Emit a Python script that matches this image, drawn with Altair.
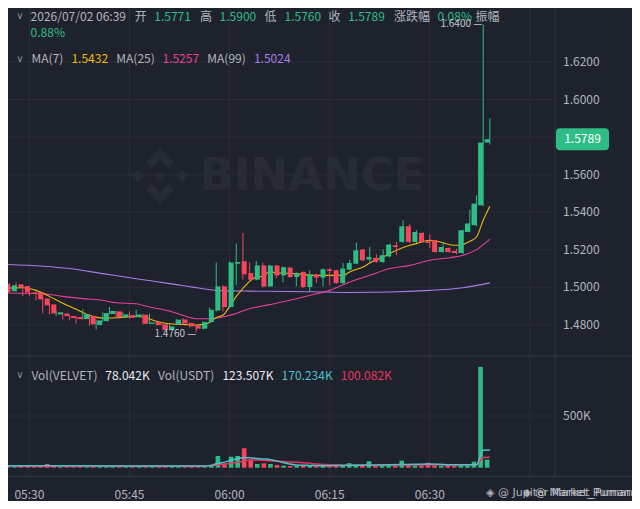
import altair as alt
import pandas as pd

# ---------------- data ----------------
n_candles = 74
times = [f"{(5 * 60 + 26 + i) // 60:02d}:{(5 * 60 + 26 + i) % 60:02d}" for i in range(n_candles)]

open_ = [1.5016, 1.4979, 1.5016, 1.5007, 1.4973, 1.4973, 1.4941, 1.4909, 1.4856, 1.4861,
         1.4847, 1.4842, 1.4831, 1.4847, 1.4799, 1.4820, 1.4858, 1.4872, 1.4842, 1.4852,
         1.4842, 1.4854, 1.4806, 1.4815, 1.4803, 1.4774, 1.4803, 1.4829, 1.4810, 1.4796,
         1.4780, 1.4815, 1.4877, 1.5005, 1.4895, 1.5126, 1.5139, 1.5076, 1.5041, 1.5117,
         1.5005, 1.5116, 1.5064, 1.5105, 1.5055, 1.5082, 1.5002, 1.5068, 1.5052, 1.5096,
         1.5091, 1.5023, 1.5094, 1.5126, 1.5201, 1.5148, 1.5156, 1.5135, 1.5165, 1.5224,
         1.5242, 1.5325, 1.5242, 1.5290, 1.5245, 1.5251, 1.5188, 1.5210, 1.5194, 1.5183,
         1.5295, 1.5331, 1.5437, 1.5771]
high = [1.5032, 1.5021, 1.5027, 1.5016, 1.4984, 1.4979, 1.4947, 1.4916, 1.4877, 1.4867,
        1.4851, 1.4845, 1.4883, 1.4860, 1.4829, 1.4867, 1.4895, 1.4875, 1.4868, 1.4872,
        1.4881, 1.4859, 1.4860, 1.4819, 1.4805, 1.4803, 1.4832, 1.4836, 1.4813, 1.4800,
        1.4819, 1.4892, 1.5132, 1.5011, 1.5139, 1.5233, 1.5290, 1.5133, 1.5140, 1.5130,
        1.5120, 1.5119, 1.5112, 1.5109, 1.5080, 1.5085, 1.5091, 1.5072, 1.5101, 1.5103,
        1.5093, 1.5130, 1.5148, 1.5238, 1.5205, 1.5215, 1.5176, 1.5201, 1.5232, 1.5242,
        1.5357, 1.5336, 1.5304, 1.5293, 1.5281, 1.5253, 1.5242, 1.5213, 1.5206, 1.5307,
        1.5414, 1.5491, 1.6400, 1.5900]
low = [1.4968, 1.4973, 1.4995, 1.4954, 1.4952, 1.4931, 1.4861, 1.4856, 1.4847, 1.4829,
       1.4824, 1.4808, 1.4829, 1.4797, 1.4776, 1.4819, 1.4856, 1.4835, 1.4840, 1.4835,
       1.4840, 1.4803, 1.4805, 1.4797, 1.4771, 1.4771, 1.4800, 1.4803, 1.4787, 1.4760,
       1.4776, 1.4813, 1.4872, 1.4872, 1.4888, 1.5011, 1.5041, 1.5037, 1.5037, 1.5000,
       1.5002, 1.5048, 1.5028, 1.5051, 1.5005, 1.4997, 1.4980, 1.5023, 1.5005, 1.5011,
       1.5019, 1.5019, 1.5091, 1.5123, 1.5139, 1.5135, 1.5131, 1.5131, 1.5160, 1.5171,
       1.5237, 1.5237, 1.5237, 1.5237, 1.5210, 1.5184, 1.5184, 1.5184, 1.5176, 1.5176,
       1.5293, 1.5325, 1.5432, 1.5760]
close = [1.4973, 1.5011, 1.5000, 1.4973, 1.4968, 1.4936, 1.4904, 1.4861, 1.4867, 1.4847,
         1.4836, 1.4831, 1.4856, 1.4803, 1.4824, 1.4863, 1.4874, 1.4840, 1.4856, 1.4838,
         1.4856, 1.4806, 1.4813, 1.4799, 1.4774, 1.4792, 1.4828, 1.4808, 1.4792, 1.4780,
         1.4815, 1.4881, 1.5005, 1.4895, 1.5132, 1.5135, 1.5069, 1.5041, 1.5117, 1.5005,
         1.5116, 1.5064, 1.5107, 1.5055, 1.5076, 1.5002, 1.5068, 1.5052, 1.5096, 1.5087,
         1.5023, 1.5100, 1.5130, 1.5197, 1.5144, 1.5162, 1.5135, 1.5171, 1.5228, 1.5215,
         1.5325, 1.5242, 1.5295, 1.5242, 1.5236, 1.5188, 1.5215, 1.5188, 1.5183, 1.5304,
         1.5340, 1.5446, 1.5771, 1.5789]
volume_k = [18, 14, 22, 16, 12, 15, 36, 20, 11, 13,
            10, 12, 9, 14, 12, 10, 15, 13, 8, 10,
            12, 16, 9, 11, 14, 10, 12, 9, 13, 15,
            11, 22, 113, 30, 106, 113, 188, 80, 36, 42,
            36, 26, 20, 16, 18, 22, 20, 14, 16, 12,
            14, 18, 43, 22, 18, 62, 16, 20, 24, 18,
            68, 26, 22, 20, 48, 22, 18, 25, 16, 30,
            24, 58, 975, 78.042]

# moving averages, read at selected candles
ma7_idx = [0, 3, 5, 7, 9, 11, 13, 15, 17, 20, 21, 23, 25, 27, 29, 30, 31, 32, 33, 34,
           35, 36, 37, 38, 39, 40, 41, 42, 44, 45, 47, 49, 51, 52, 53, 54, 55, 57, 59, 61,
           62, 64, 65, 67, 68, 69, 70, 71, 72, 73]
ma7 = [1.4996, 1.4998, 1.4984, 1.4952, 1.4915, 1.4883, 1.4851, 1.4836, 1.4838, 1.4845,
       1.4842, 1.4820, 1.4806, 1.4803, 1.4799, 1.4803, 1.4813, 1.4840, 1.4851, 1.4899,
       1.4952, 1.4995, 1.5032, 1.5055, 1.5059, 1.5085, 1.5077, 1.5076, 1.5073, 1.5068,
       1.5064, 1.5064, 1.5064, 1.5082, 1.5096, 1.5108, 1.5130, 1.5162, 1.5197, 1.5224,
       1.5233, 1.5251, 1.5247, 1.5227, 1.5224, 1.5229, 1.5245, 1.5268, 1.5357, 1.5432]
ma25_idx = [0, 6, 9, 12, 15, 17, 20, 22, 25, 27, 29, 31, 34, 37, 40, 43, 46, 49, 52, 55,
            58, 61, 64, 67, 69, 71, 73]
ma25 = [1.4970, 1.4966, 1.4952, 1.4940, 1.4931, 1.4918, 1.4913, 1.4895, 1.4874, 1.4851,
        1.4833, 1.4833, 1.4851, 1.4886, 1.4908, 1.4931, 1.4957, 1.4984, 1.5028, 1.5064,
        1.5100, 1.5117, 1.5144, 1.5158, 1.5171, 1.5201, 1.5257]
ma99_idx = [0, 10, 15, 20, 25, 30, 32, 37, 40, 46, 52, 58, 64, 69, 73]
ma99 = [1.5123, 1.5100, 1.5073, 1.5046, 1.5020, 1.4993, 1.4984, 1.4980, 1.4979, 1.4977,
        1.4973, 1.4975, 1.4984, 1.4998, 1.5024]

vma5_idx = [0, 12, 24, 30, 31, 32, 33, 34, 35, 36, 37, 38, 39, 40, 42, 43, 44, 46, 48, 52,
            56, 60, 64, 68, 71, 72, 73]
vma5 = [20, 18, 16, 17, 20, 38, 50, 68, 85, 97, 95, 90, 85, 80, 50, 35, 26, 22, 19, 24,
        26, 30, 36, 28, 28, 168, 170.234]
vma10_idx = [0, 12, 24, 30, 32, 34, 36, 37, 38, 40, 42, 44, 46, 47, 49, 52, 56, 60, 64, 68,
             71, 72, 73]
vma10 = [19, 17, 16, 16, 25, 40, 62, 72, 74, 68, 60, 52, 42, 36, 28, 24, 26, 26, 28, 27,
         28, 98, 100.082]

price_grid = [1.48, 1.50, 1.52, 1.54, 1.56, 1.58, 1.60, 1.62]
price_labels = [1.48, 1.50, 1.52, 1.54, 1.56, 1.60, 1.62]   # 1.58 sits under the price tag
vol_ticks = [500]
time_ticks = ["05:30", "05:45", "06:00", "06:15", "06:30", "06:45"]
time_labels = ["05:30", "05:45", "06:00", "06:15", "06:30"]

header_date = "2026/07/02 06:39"
change_pct = "0.08%"
amplitude_pct = "0.88%"
ma_values = ["1.5432", "1.5257", "1.5024"]
vol_values = ["78.042K", "123.507K", "170.234K", "100.082K"]

# ---------------- styles / layout ----------------
BG = "#1e222d"
GRID = "#2a2e39"
SEP = "#323642"
GREEN = "#2ebd85"
RED = "#f6465d"
MA7C = "#f0b90b"
MA25C = "#e8409a"
MA99C = "#a97ce8"
VMA5C = "#4fc1cc"
VMA10C = "#e6365f"
TXT = "#b2b5be"
WHITE = "#eaecef"
WM = "#272b37"
FONT = "Noto Sans CJK SC"

W, H = 624, 493
PLOT_R = 547
PRICE_BOTTOM = 348
VOL_BOTTOM = 468.5
X_DOMAIN = [26.793, 120.30]
P_DOMAIN = [1.38624, 1.64875]
V_DOMAIN = [-322.1, 4445.8]


def to_min(t):
    h, m = t.split(":")
    return int(h) * 60 + int(m) - 300


minute = [to_min(t) for t in times]

df = pd.DataFrame(dict(m=minute, o=open_, h=high, l=low, c=close, v=volume_k))
df["col"] = [GREEN if c >= o else RED for o, c in zip(open_, close)]
df["zero"] = 0


def xs():
    return alt.X("m:Q", scale=alt.Scale(domain=X_DOMAIN, nice=False, zero=False), axis=None)


def py(f):
    return alt.Y(f, scale=alt.Scale(domain=P_DOMAIN, nice=False, zero=False), axis=None)


def vy(f):
    return alt.Y(f, scale=alt.Scale(domain=V_DOMAIN, nice=False, zero=False), axis=None)


def series(idx, vals):
    return pd.DataFrame({"m": [minute[i] for i in idx], "val": vals})


layers = []

# grid
layers.append(alt.Chart(pd.DataFrame({"m": [to_min(t) for t in time_ticks]}))
              .mark_rule(color=GRID, strokeWidth=1)
              .encode(x=xs(), y=alt.value(0), y2=alt.value(VOL_BOTTOM)))
layers.append(alt.Chart(pd.DataFrame({"p": price_grid}))
              .mark_rule(color=GRID, strokeWidth=1)
              .encode(y=py("p:Q"), x=alt.value(0), x2=alt.value(PLOT_R)))
layers.append(alt.Chart(pd.DataFrame({"v": vol_ticks}))
              .mark_rule(color=GRID, strokeWidth=1)
              .encode(y=vy("v:Q"), x=alt.value(0), x2=alt.value(PLOT_R)))
sep = pd.DataFrame({"x": [0, 0, PLOT_R], "x2": [W, W, PLOT_R],
                    "y": [PRICE_BOTTOM, VOL_BOTTOM, 0], "y2": [PRICE_BOTTOM, VOL_BOTTOM, VOL_BOTTOM]})
layers.append(alt.Chart(sep).mark_rule(color=SEP, strokeWidth=1)
              .encode(x=alt.X("x:Q", scale=None), x2="x2:Q",
                      y=alt.Y("y:Q", scale=None), y2="y2:Q"))

# watermark
logo_path = ("M0,-1 L0.5,-0.5 L0.3,-0.3 L0,-0.6 L-0.3,-0.3 L-0.5,-0.5 Z "
             "M0,1 L0.5,0.5 L0.3,0.3 L0,0.6 L-0.3,0.3 L-0.5,0.5 Z "
             "M0,-0.2 L0.2,0 L0,0.2 L-0.2,0 Z "
             "M-0.8,-0.2 L-0.6,0 L-0.8,0.2 L-1,0 Z "
             "M0.8,-0.2 L1,0 L0.8,0.2 L0.6,0 Z")
wm = alt.Chart(pd.DataFrame({"a": [0]}))
layers.append(wm.mark_point(shape=logo_path, size=56 * 56, filled=True, color=WM, opacity=1, strokeWidth=0)
              .encode(x=alt.value(152), y=alt.value(168)))
layers.append(wm.mark_text(text="BINANCE", font="DejaVu Sans", fontWeight="bold", fontSize=45,
                           color=WM, align="center", baseline="middle")
              .encode(x=alt.value(304), y=alt.value(168)))

# moving averages
for idx, vals, col in [(ma99_idx, ma99, MA99C), (ma25_idx, ma25, MA25C), (ma7_idx, ma7, MA7C)]:
    layers.append(alt.Chart(series(idx, vals))
                  .mark_line(color=col, strokeWidth=1.1, interpolate="monotone", clip=True)
                  .encode(x=xs(), y=py("val:Q")))

# candles
layers.append(alt.Chart(df).mark_rule(strokeWidth=1, clip=True)
              .encode(x=xs(), y=py("l:Q"), y2="h:Q", color=alt.Color("col:N", scale=None)))
layers.append(alt.Chart(df).mark_bar(size=5, clip=True)
              .encode(x=xs(), y=py("o:Q"), y2="c:Q", color=alt.Color("col:N", scale=None)))

# volume
layers.append(alt.Chart(df).mark_bar(size=4.6, clip=True)
              .encode(x=xs(), y=vy("v:Q"), y2="zero:Q", color=alt.Color("col:N", scale=None)))
for idx, vals, col in [(vma10_idx, vma10, VMA10C), (vma5_idx, vma5, VMA5C)]:
    layers.append(alt.Chart(series(idx, vals))
                  .mark_line(color=col, strokeWidth=1.5, interpolate="monotone", clip=True)
                  .encode(x=xs(), y=vy("val:Q")))

# header texts
last = n_candles - 1
hdr = pd.DataFrame([
    (header_date, 22.6, 8.5, TXT),
    ("开", 126.7, 8.5, TXT), (f"{open_[last]:.4f}", 146.3, 8.5, GREEN),
    ("高", 192.0, 8.5, TXT), (f"{high[last]:.4f}", 211.6, 8.5, GREEN),
    ("低", 256.5, 8.5, TXT), (f"{low[last]:.4f}", 276.5, 8.5, GREEN),
    ("收", 320.6, 8.5, TXT), (f"{close[last]:.4f}", 340.2, 8.5, GREEN),
    ("涨跌幅", 385.9, 8.5, TXT), (change_pct, 429.6, 8.5, GREEN),
    ("振幅", 467.5, 8.5, TXT),
    (amplitude_pct, 22.6, 24.5, GREEN),
    ("MA(7)", 23.4, 51, TXT), (ma_values[0], 63.4, 51, MA7C),
    ("MA(25)", 108.3, 51, TXT), (ma_values[1], 154.4, 51, MA25C),
    ("MA(99)", 199.3, 51, TXT), (ma_values[2], 245.9, 51, MA99C),
    ("Vol(VELVET)", 23.4, 367.5, TXT), (vol_values[0], 97.3, 367.5, WHITE),
    ("Vol(USDT)", 150.0, 367.5, TXT), (vol_values[1], 214.4, 367.5, WHITE),
    (vol_values[2], 273.6, 367.5, VMA5C), (vol_values[3], 332.8, 367.5, VMA10C),
], columns=["text", "x", "y", "col"])
layers.append(alt.Chart(hdr).mark_text(align="left", baseline="middle", font=FONT, fontSize=12)
              .encode(x=alt.X("x:Q", scale=None), y=alt.Y("y:Q", scale=None),
                      text="text:N", color=alt.Color("col:N", scale=None)))
chev = pd.DataFrame({"x": [12, 12, 12], "y": [8, 50.5, 367]})
layers.append(alt.Chart(chev).mark_text(text="∨", align="center", baseline="middle",
                                        font="DejaVu Sans", fontSize=10, color="#848e9c")
              .encode(x=alt.X("x:Q", scale=None), y=alt.Y("y:Q", scale=None)))

# right axis labels
layers.append(alt.Chart(pd.DataFrame({"p": price_labels, "lab": [f"{p:.4f}" for p in price_labels]}))
              .mark_text(align="left", baseline="middle", font=FONT, fontSize=12, color=TXT)
              .encode(x=alt.value(555), y=py("p:Q"), text="lab:N"))
layers.append(alt.Chart(pd.DataFrame({"v": vol_ticks, "lab": [f"{v}K" for v in vol_ticks]}))
              .mark_text(align="left", baseline="middle", font=FONT, fontSize=12, color=TXT)
              .encode(x=alt.value(555), y=vy("v:Q"), text="lab:N"))
# time labels
layers.append(alt.Chart(pd.DataFrame({"m": [to_min(t) for t in time_labels], "lab": time_labels}))
              .mark_text(align="center", baseline="middle", font=FONT, fontSize=12, color=TXT)
              .encode(x=xs(), y=alt.value(486.7), text="lab:N"))

# current price tag
tag_path = ("M-0.85,-0.415 L0.85,-0.415 Q1,-0.415 1,-0.265 L1,0.265 Q1,0.415 0.85,0.415 "
            "L-0.85,0.415 Q-1,0.415 -1,0.265 L-1,-0.265 Q-1,-0.415 -0.85,-0.415 Z")
tag = alt.Chart(pd.DataFrame({"p": [close[last]], "lab": [f"{close[last]:.4f}"]}))
layers.append(tag.mark_point(shape=tag_path, size=53 * 53, filled=True, color=GREEN, opacity=1, strokeWidth=0)
              .encode(x=alt.value(574.5), y=py("p:Q")))
layers.append(tag.mark_text(align="center", baseline="middle", font=FONT, fontSize=12, color="#ffffff")
              .encode(x=alt.value(574.5), y=py("p:Q"), text="lab:N"))

# high / low annotations
hi = max(range(n_candles), key=lambda i: high[i])
lo = min(range(n_candles), key=lambda i: low[i])
layers.append(alt.Chart(pd.DataFrame({"m": [minute[hi]], "p": [high[hi]], "lab": [f"{high[hi]:.4f} —"]}))
              .mark_text(align="right", baseline="middle", font=FONT, fontSize=10, color="#c3c7cf", dx=-1)
              .encode(x=xs(), y=py("p:Q"), text="lab:N"))
layers.append(alt.Chart(pd.DataFrame({"m": [minute[lo]], "p": [low[lo]], "lab": [f"{low[lo]:.4f} —"]}))
              .mark_text(align="right", baseline="middle", font=FONT, fontSize=10, color="#c3c7cf", dx=0, dy=2)
              .encode(x=xs(), y=py("p:Q"), text="lab:N"))

# bottom-right watermark
bw = pd.DataFrame({"text": ["◈ @ Jupiter Market_Puman", "◈ @ Market_Puman"], "x": [478, 515], "y": [484.5, 484.5]})
layers.append(alt.Chart(bw).mark_text(align="left", baseline="middle", font="DejaVu Sans", fontSize=11,
                                      color="#c9ccd3", opacity=0.85)
              .encode(x=alt.X("x:Q", scale=None), y=alt.Y("y:Q", scale=None), text="text:N"))

chart = (alt.layer(*layers)
         .resolve_scale(x="independent", y="independent", color="independent")
         .properties(width=W, height=H, autosize=alt.AutoSizeParams(type="none"), padding=0,
                     background=BG)
         .configure_view(stroke=None))

chart.save("out.html", embed_options={"renderer": "svg", "actions": False})
